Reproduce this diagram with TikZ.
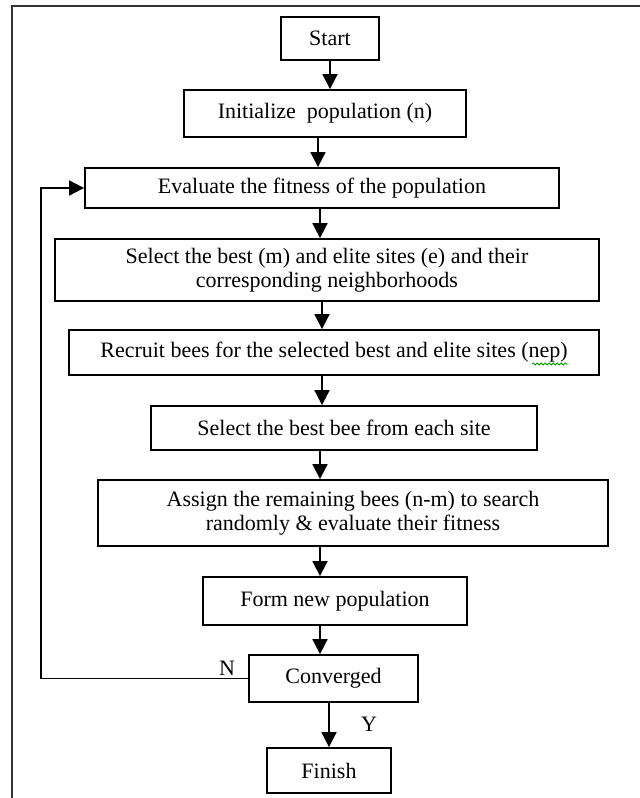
\documentclass[tikz,border=0pt]{standalone}
\usepackage{fontspec}
\setmainfont{Liberation Serif}
\usetikzlibrary{arrows.meta,decorations.pathmorphing}

\begin{document}
\begin{tikzpicture}[x=1pt,y=-1pt,line width=1.8pt,
	box/.style={draw,inner sep=0pt,align=center,font=\fontsize{22}{24}\selectfont},
	arr/.style={-{Triangle[width=15pt,length=15pt]}},
	lbl/.style={inner sep=0pt,font=\fontsize{22}{24}\selectfont}]
	\useasboundingbox (0,0) rectangle (640,798);
	\draw [black!80,line width=2pt] (640,6) -- (12,6) -- (12,798);
	
	\foreach \name/\x/\y/\w/\h/\txt in {
		start/330/38.5/98/43/{Start},
		init/325/113.5/282/47/{Initialize\ \ population (n)},
		eval/322/188/474/40/{Evaluate the fitness of the population},
		best/327/270/544/62/{Select the best (m) and elite sites (e) and their\\corresponding neighborhoods},
		recruit/334/352.5/530/45/{Recruit bees for the selected best and elite sites (nep)},
		bestbee/344/428/386/44/{Select the best bee from each site},
		assign/353/513/510/66/{Assign the remaining bees (n-m) to search\\randomly \& evaluate their fitness},
		form/335/601/264/48/{Form new population},
		conv/333.5/678.5/169/47/{Converged},
		finish/329/770.5/124/45/{Finish}}{
		\node [box,minimum width=\w,minimum height=\h] at (\x,\y) (\name) {\txt};
	}
	\coordinate (spine) at (320,0);
	\coordinate (loop) at (41,0);
	
	% spell-check squiggle under nep
	\draw [green!60!black,line width=0.8pt,decorate,decoration={snake,amplitude=1pt,segment length=4pt}] (532,364) -- (568,364);
	
	\draw [arr] (start.south) -- (start.south |- init.north);
	\draw [arr] (init.south -| 318,0) -- (eval.north -| 318,0);
	\draw [arr] (eval.south -| spine) -- (best.north -| spine);
	\draw [arr] (best.south -| 322,0) -- (recruit.north -| 322,0);
	\draw [arr] (recruit.south -| 322,0) -- (bestbee.north -| 322,0);
	\draw [arr] (bestbee.south -| spine) -- (assign.north -| spine);
	\draw [arr] (assign.south -| spine) -- (form.north -| spine);
	\draw [arr] (form.south -| spine) -- (conv.north -| spine);
	\draw [arr] (finish.north |- conv.south) -- (finish.north);
	
	\draw [arr] (conv.west) -- (conv.west -| loop) |- (eval.west);
	
	\node [lbl] at (227,668) (no) {N};
	\node [lbl] at (369,724) (yes) {Y};
	
\end{tikzpicture}
\end{document}
